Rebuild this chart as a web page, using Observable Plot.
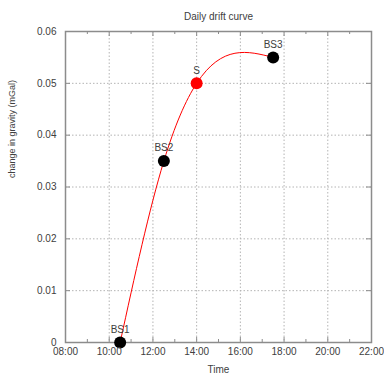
<!DOCTYPE html>
<html>
<head>
<meta charset="utf-8">
<script src="https://cdn.jsdelivr.net/npm/d3@7"></script>
<script src="https://cdn.jsdelivr.net/npm/@observablehq/plot@0.6"></script>
<style>
  html, body { margin: 0; padding: 0; background: #fff; }
  svg { font-family: "Liberation Sans", Arial, sans-serif; }
</style>
</head>
<body>
<div id="chart"></div>
<script>
const times = ["10:30", "12:30", "14:00", "17:30"];
const gravity = [0, 0.035, 0.05, 0.055];
const names = ["BS1", "BS2", "S", "BS3"];
const pointColors = ["black", "black", "red", "black"];
const xTickLabels = ["08:00", "10:00", "12:00", "14:00", "16:00", "18:00", "20:00", "22:00"];
const xMinorLabels = ["09:00", "11:00", "13:00", "15:00", "17:00", "19:00", "21:00"];
const yTicks = [0, 0.01, 0.02, 0.03, 0.04, 0.05, 0.06];

const toHours = s => { const [h, m] = s.split(":").map(Number); return h + m / 60; };
const data = times.map((t, i) => ({ t: toHours(t), g: gravity[i], name: names[i], color: pointColors[i] }));
const xMajor = xTickLabels.map(toHours);
const xMinor = xMinorLabels.map(toHours);
const xGrid = xMajor.slice(1, -1);
const yGrid = yTicks.slice(1, -1);

// Curve factory: natural cubic spline with y as a function of x (like gnuplot "smooth csplines")
function curveNaturalX(context) {
  let xs = [], ys = [];
  return {
    areaStart() {}, areaEnd() {},
    lineStart() { xs = []; ys = []; },
    point(x, y) { xs.push(+x); ys.push(+y); },
    lineEnd() {
      const n = xs.length;
      if (!n) return;
      context.moveTo(xs[0], ys[0]);
      if (n === 1) return;
      if (n === 2) { context.lineTo(xs[1], ys[1]); return; }
      const h = [], s = [];
      for (let i = 0; i < n - 1; i++) { h.push(xs[i + 1] - xs[i]); s.push((ys[i + 1] - ys[i]) / h[i]); }
      const M = new Array(n).fill(0);
      const a = [], b = [], c = [], r = [];
      for (let i = 1; i < n - 1; i++) {
        a.push(h[i - 1]); b.push(2 * (h[i - 1] + h[i])); c.push(h[i]); r.push(6 * (s[i] - s[i - 1]));
      }
      const m = b.length;
      for (let i = 1; i < m; i++) {
        const w = a[i] / b[i - 1];
        b[i] -= w * c[i - 1];
        r[i] -= w * r[i - 1];
      }
      const sol = new Array(m);
      sol[m - 1] = r[m - 1] / b[m - 1];
      for (let i = m - 2; i >= 0; i--) sol[i] = (r[i] - c[i] * sol[i + 1]) / b[i];
      for (let i = 0; i < m; i++) M[i + 1] = sol[i];
      for (let i = 0; i < n - 1; i++) {
        const d0 = s[i] - h[i] * (2 * M[i] + M[i + 1]) / 6;
        const d1 = s[i] + h[i] * (M[i] + 2 * M[i + 1]) / 6;
        context.bezierCurveTo(
          xs[i] + h[i] / 3, ys[i] + d0 * h[i] / 3,
          xs[i + 1] - h[i] / 3, ys[i + 1] - d1 * h[i] / 3,
          xs[i + 1], ys[i + 1]
        );
      }
    }
  };
}

const W = 384, H = 376, mT = 31, mB = 34, mL = 65, mR = 13;
const innerH = H - mT - mB;
const innerW = W - mL - mR;
const frameColor = "#8c8c8c", gridColor = "#b4b4b4", textColor = "#404040";

const chart = Plot.plot({
  width: W, height: H,
  marginTop: mT, marginBottom: mB, marginLeft: mL, marginRight: mR,
  style: { fontSize: "10px", fontFamily: "'Liberation Sans', Arial, sans-serif", background: "white" },
  x: { domain: [8, 22], axis: null },
  y: { domain: [0, 0.06], axis: null },
  color: { type: "identity" },
  marks: [
    Plot.ruleX(xGrid, { stroke: gridColor, strokeDasharray: "1.5,2" }),
    Plot.ruleY(yGrid, { stroke: gridColor, strokeDasharray: "1.5,2" }),
    // inward ticks bottom/top
    Plot.ruleX(xMajor, { stroke: frameColor, insetTop: innerH - 5 }),
    Plot.ruleX(xMajor, { stroke: frameColor, insetBottom: innerH - 5 }),
    Plot.ruleX(xMinor, { stroke: frameColor, insetTop: innerH - 3 }),
    Plot.ruleX(xMinor, { stroke: frameColor, insetBottom: innerH - 3 }),
    // inward ticks left/right
    Plot.ruleY(yTicks, { stroke: frameColor, insetRight: innerW - 5 }),
    Plot.ruleY(yTicks, { stroke: frameColor, insetLeft: innerW - 5 }),
    Plot.frame({ stroke: frameColor, strokeWidth: 1.5 }),
    Plot.line(data, { x: "t", y: "g", curve: curveNaturalX, stroke: "red", strokeWidth: 1 }),
    Plot.dot(data, { x: "t", y: "g", r: 6, fill: "color" }),
    Plot.text(data, { x: "t", y: "g", text: "name", dy: -13, fill: textColor, fontSize: 10 }),
    // tick labels
    Plot.text(xTickLabels, { x: d => toHours(d), text: d => d, frameAnchor: "bottom", dy: 12.5, fill: textColor }),
    Plot.text(yTicks, { y: d => d, text: d => d === 0 ? "0" : d.toFixed(2), frameAnchor: "left", dx: -9, textAnchor: "end", fill: textColor }),
    // titles
    Plot.text(["Daily drift curve"], { text: d => d, frameAnchor: "top", dy: -19, fill: textColor }),
    Plot.text(["change in gravity (mGal)"], { text: d => d, frameAnchor: "left", dx: -53, dy: -9, rotate: -90, fill: textColor, fontSize: 9 }),
    Plot.text(["Time"], { text: d => d, frameAnchor: "bottom", dy: 30, fill: textColor })
  ]
});
document.getElementById("chart").appendChild(chart);
</script>
</body>
</html>
